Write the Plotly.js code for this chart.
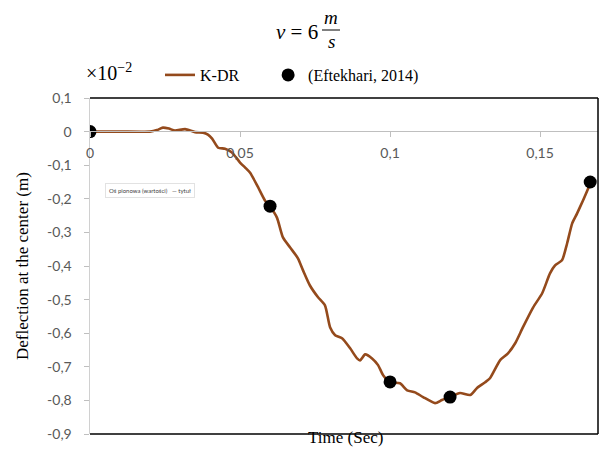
<!DOCTYPE html>
<html>
<head>
<meta charset="utf-8">
<script src="https://cdn.plot.ly/plotly-3.0.1.min.js"></script>
<style>html,body{margin:0;padding:0;background:#fff;}#chart{width:603px;height:450px;}</style>
</head>
<body>
<div id="chart"></div>
<script>
// K-DR curve: time (s) and deflection (x10^-2 m)
var kdrTime = [0, 0.01, 0.02, 0.0223, 0.0243, 0.0263, 0.0283, 0.0317, 0.035, 0.0377, 0.0393, 0.0407, 0.0427, 0.045, 0.0473, 0.05, 0.0517, 0.0533, 0.0557, 0.0583, 0.06, 0.0623, 0.0643, 0.0667, 0.0693, 0.071, 0.0733, 0.076, 0.0783, 0.08, 0.0817, 0.084, 0.0867, 0.089, 0.09, 0.0917, 0.094, 0.096, 0.0977, 0.1, 0.1033, 0.1057, 0.1083, 0.111, 0.115, 0.1173, 0.12, 0.1233, 0.1267, 0.129, 0.1317, 0.1333, 0.1367, 0.1393, 0.1417, 0.1443, 0.1477, 0.1507, 0.1533, 0.155, 0.1573, 0.159, 0.1607, 0.1623, 0.1643, 0.1667];
var kdrDefl = [0, 0, 0, 0.0045, 0.0119, 0.0089, 0.003, 0.0074, -0.0015, -0.003, -0.009, -0.021, -0.048, -0.051, -0.062, -0.092, -0.107, -0.122, -0.160, -0.205, -0.223, -0.256, -0.315, -0.345, -0.377, -0.413, -0.458, -0.493, -0.517, -0.582, -0.606, -0.615, -0.645, -0.675, -0.681, -0.663, -0.675, -0.695, -0.725, -0.746, -0.749, -0.770, -0.776, -0.790, -0.808, -0.799, -0.790, -0.778, -0.784, -0.763, -0.746, -0.734, -0.680, -0.660, -0.630, -0.582, -0.523, -0.481, -0.422, -0.398, -0.383, -0.333, -0.273, -0.244, -0.205, -0.155];
// Eftekhari, 2014 reference points
var refTime = [0, 0.06, 0.1, 0.12, 0.1667];
var refDefl = [0, -0.222, -0.745, -0.79, -0.15];
// Tick labels
var xTickVals = [0, 0.05, 0.1, 0.15];
var xTickText = ["0", "0,05", "0,1", "0,15"];
var yTickVals = [0.1, 0, -0.1, -0.2, -0.3, -0.4, -0.5, -0.6, -0.7, -0.8, -0.9];
var yTickText = ["0,1", "0", "-0,1", "-0,2", "-0,3", "-0,4", "-0,5", "-0,6", "-0,7", "-0,8", "-0,9"];

var brown = '#944a1c';
var serif = '"Liberation Serif", "DejaVu Serif", serif';
var sans = 'Lato, "Open Sans", sans-serif';

// pixel -> paper helpers (plot area 90..598 x 98..434)
function px(x){ return (x - 90) / 508; }
function py(y){ return (434 - y) / 336; }

var pad = '\u00a0\u00a0\u00a0\u00a0\u00a0\u00a0';

var traces = [
  {x: kdrTime, y: kdrDefl, mode: 'lines', name: 'K-DR' + pad, line: {color: brown, width: 2.6, shape: 'spline', smoothing: 0.6}},
  {x: refTime, y: refDefl, mode: 'markers', name: '(Eftekhari, 2014)', marker: {color: '#000', size: 13}}
];

var layout = {
  width: 603, height: 450,
  margin: {l: 90, r: 5, t: 98, b: 16},
  paper_bgcolor: '#fff', plot_bgcolor: '#fff',
  showlegend: true,
  legend: {orientation: 'h', x: px(160), y: py(75), xanchor: 'left', yanchor: 'middle',
           font: {family: serif, size: 16, color: '#000'}, bgcolor: 'rgba(0,0,0,0)', itemwidth: 30},
  xaxis: {range: [0, 0.1693], tickvals: xTickVals, ticktext: xTickText,
          anchor: 'free', position: py(131), showline: true, linecolor: '#bfbfbf', linewidth: 1,
          ticks: 'outside', ticklen: 5, tickcolor: '#bfbfbf', showgrid: false, zeroline: false,
          ticklabelstandoff: 4,
          tickfont: {family: sans, size: 14, color: '#595959'}},
  yaxis: {range: [-0.9, 0.1], tickvals: yTickVals, ticktext: yTickText,
          showline: true, linecolor: '#d0d0d0', linewidth: 1.5,
          ticks: 'outside', ticklen: 5, tickcolor: '#bfbfbf', showgrid: false, zeroline: false,
          ticklabelstandoff: 9,
          tickfont: {family: sans, size: 14, color: '#595959'}},
  shapes: [
    {type: 'line', xref: 'paper', yref: 'paper', x0: 0, x1: 1, y0: 1, y1: 1, line: {color: '#000', width: 1.5}},
    {type: 'line', xref: 'paper', yref: 'paper', x0: 1, x1: 1, y0: 0, y1: 1, line: {color: '#000', width: 1.5}},
    {type: 'line', xref: 'paper', yref: 'paper', x0: 0, x1: 1, y0: 0, y1: 0, line: {color: '#000', width: 1.5}},
    {type: 'line', xref: 'paper', yref: 'paper', x0: px(322), x1: px(340), y0: py(30), y1: py(30), line: {color: '#000', width: 1}}
  ],
  annotations: [
    {xref: 'paper', yref: 'paper', x: px(320), y: py(32), xanchor: 'right', yanchor: 'middle', showarrow: false,
     text: '<i>v</i> = 6', font: {family: serif, size: 21, color: '#000'}},
    {xref: 'paper', yref: 'paper', x: px(331), y: py(18), xanchor: 'center', yanchor: 'middle', showarrow: false,
     text: '<i>m</i>', font: {family: serif, size: 19, color: '#000'}},
    {xref: 'paper', yref: 'paper', x: px(331), y: py(42), xanchor: 'center', yanchor: 'middle', showarrow: false,
     text: '<i>s</i>', font: {family: serif, size: 19, color: '#000'}},
    {xref: 'paper', yref: 'paper', x: px(84), y: py(72), xanchor: 'left', yanchor: 'middle', showarrow: false,
     text: '×10<sup>−2</sup>', font: {family: serif, size: 20, color: '#000'}},
    {xref: 'paper', yref: 'paper', x: px(22), y: py(266), xanchor: 'center', yanchor: 'middle', showarrow: false,
     textangle: -90, text: 'Deflection at the center (m)', font: {family: serif, size: 17, color: '#000'}},
    {xref: 'paper', yref: 'paper', x: px(345), y: py(437), xanchor: 'center', yanchor: 'middle', showarrow: false,
     text: 'Time (Sec)', font: {family: serif, size: 17, color: '#000'}},
    {xref: 'paper', yref: 'paper', x: px(150), y: py(190), xanchor: 'center', yanchor: 'middle', showarrow: false,
     text: 'Oś pionowa (wartości)   — tytuł', font: {family: sans, size: 6, color: '#444'},
     bgcolor: '#fff', bordercolor: '#e2e2e2', borderwidth: 1, borderpad: 3}
  ]
};

Plotly.newPlot('chart', traces, layout, {displayModeBar: false, staticPlot: true});
</script>
</body>
</html>
